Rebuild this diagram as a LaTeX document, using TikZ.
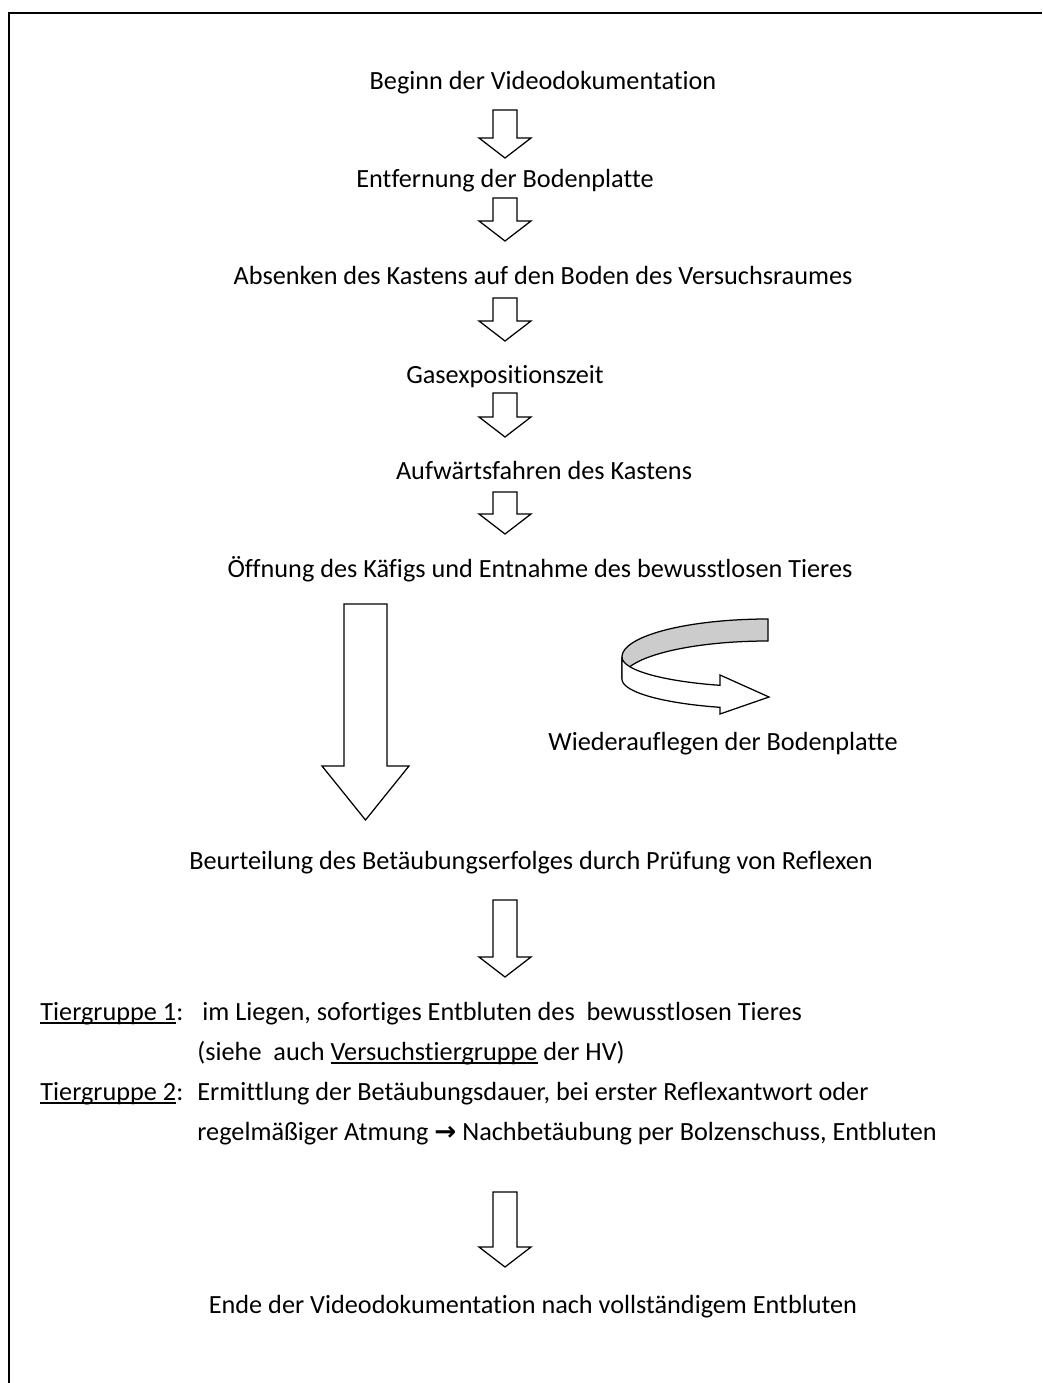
\documentclass[tikz,border=0pt]{standalone}
\usepackage{fontspec}
\setmainfont{Carlito}[Ligatures={NoCommon}]
\newfontfamily\arrowfont{DejaVu Sans}
\newcommand{\grpline}[1]{\setbox0=\hbox{#1}\rlap{\rule[-1.8pt]{\wd0}{0.8pt}}\box0\relax}
\usepackage{tikz}
\tikzset{steptext/.style={anchor=base,font=\fontsize{12.6}{15}\selectfont,inner sep=0pt},
         lefttext/.style={steptext,anchor=base west},
         blockarrow/.style={draw=black,fill=white,line width=0.6pt,line join=miter}}

\begin{document}
\begin{tikzpicture}[x=0.48pt,y=-0.48pt]
\useasboundingbox (0,0) rectangle (1042,1383);
\draw[line width=1pt] (9,1383) -- (9,13) -- (1042,13);

\node[steptext] (beginn) at (543,90) {Beginn der Videodokumentation};
\node[steptext] (entfernung) at (505,188) {Entfernung der Bodenplatte};
\node[steptext] (absenken) at (543,285) {Absenken des Kastens auf den Boden des Versuchsraumes};
\node[steptext] (gas) at (505,384) {Gasexpositionszeit};
\node[steptext] (aufwaerts) at (544,479) {Aufwärtsfahren des Kastens};
\node[steptext] (oeffnung) at (540,577) {Öffnung des Käfigs und Entnahme des bewusstlosen Tieres};
\node[steptext] (wieder) at (723,750) {Wiederauflegen der Bodenplatte};
\node[steptext] (beurteilung) at (531,869) {Beurteilung des Betäubungserfolges durch Prüfung von Reflexen};

\node[lefttext] (tg1) at (40,1020) {\grpline{Tiergruppe 1}:};
\node[lefttext] (tg1a) at (202,1020) {im Liegen, sofortiges Entbluten des\ \ bewusstlosen Tieres};
\node[lefttext] (tg1b) at (197,1060) {(siehe\ \ auch \grpline{Versuchstiergruppe} der HV)};
\node[lefttext] (tg2) at (40,1100) {\grpline{Tiergruppe 2}:};
\node[lefttext] (tg2a) at (197,1100) {Ermittlung der Betäubungsdauer, bei erster Reflexantwort oder};
\node[lefttext] (tg2b) at (197,1140) {regelmäßiger Atmung {\arrowfont\bfseries →} Nachbetäubung per Bolzenschuss, Entbluten};

\node[steptext] (ende) at (533,1313) {Ende der Videodokumentation nach vollständigem Entbluten};

% kleine Pfeile
\foreach \ya/\yb in {110/158,198/241,298/341,393/437,492/534,900/977,1192/1267}
  {
    \draw[blockarrow] (493,\ya) -- (517,\ya) -- (517,\yb-20) -- (531,\yb-20) -- (505,\yb) -- (479,\yb-20) -- (493,\yb-20) -- cycle;
  }

% grosser Pfeil
\draw[blockarrow] (344,604) -- (387,604) -- (387,766) -- (409,766) -- (365.5,820) -- (322,766) -- (344,766) -- cycle;

% gebogener Pfeil
\draw[blockarrow,fill=gray!40] plot[domain=270:180,samples=40] ({768+146*cos(\x)},{657+38*sin(\x)})
   -- plot[domain=180:270,samples=40] ({768+146*cos(\x)},{679+38*sin(\x)}) -- cycle;
\draw[blockarrow] plot[domain=180:109.2,samples=30] ({768+146*cos(\x)},{657+30*sin(\x)})
   -- (720,675) -- (769,697) -- (720,714)
   -- plot[domain=109.2:180,samples=30] ({768+146*cos(\x)},{679+30*sin(\x)}) -- cycle;

\end{tikzpicture}
\end{document}
